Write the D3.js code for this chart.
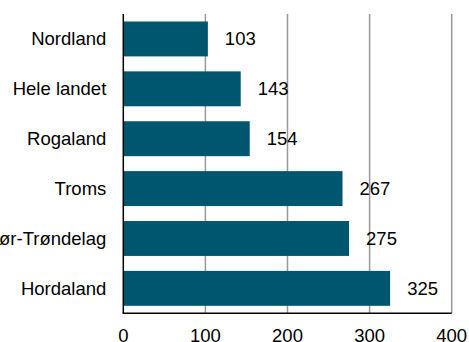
<!DOCTYPE html>
<html><head><meta charset="utf-8">
<script src="https://cdn.jsdelivr.net/npm/d3@7"></script>
<style>body{margin:0;background:#fff}svg{display:block}</style>
</head><body>
<script>
const categories = ["Nordland","Hele landet","Rogaland","Troms","Sør-Trøndelag","Hordaland"];
const values = [103,143,154,267,275,325];
const ticks = [0,100,200,300,400];

const W = 469, H = 342;
const m = {left:123.3, right:W-451.7, top:14, bottom:H-313.3};
const svg = d3.select("body").append("svg").attr("width",W).attr("height",H);
const x = d3.scaleLinear().domain([0,400]).range([m.left, W-m.right]);
const y = d3.scaleBand().domain(categories).range([m.top, H-m.bottom]).paddingInner(0.3).paddingOuter(0.15);
const font = "'Liberation Sans', Arial, sans-serif";
const fs = 18.5;

// gridlines
svg.append("g").selectAll("line").data(ticks.slice(1)).join("line")
  .attr("x1",d=>x(d)).attr("x2",d=>x(d))
  .attr("y1",m.top).attr("y2",H-m.bottom)
  .attr("stroke","#999").attr("stroke-width",1.5);

// bars
svg.append("g").selectAll("rect").data(values).join("rect")
  .attr("x",x(0)).attr("y",(d,i)=>y(categories[i]))
  .attr("width",d=>x(d)-x(0)).attr("height",y.bandwidth())
  .attr("fill","#00566e");

// value labels
svg.append("g").selectAll("text").data(values).join("text")
  .attr("x",d=>x(d)+17).attr("y",(d,i)=>y(categories[i])+y.bandwidth()/2)
  .attr("dy","0.35em").attr("font-family",font).attr("font-size",fs).attr("fill","#000")
  .text(d=>d);

// axes lines
svg.append("line").attr("x1",x(0)).attr("x2",x(0)).attr("y1",m.top).attr("y2",H-m.bottom)
  .attr("stroke","#000").attr("stroke-width",1.5);
svg.append("line").attr("x1",x(0)-0.75).attr("x2",x(400)).attr("y1",H-m.bottom).attr("y2",H-m.bottom)
  .attr("stroke","#000").attr("stroke-width",1.5);

// category labels
svg.append("g").selectAll("text").data(categories).join("text")
  .attr("x",x(0)-17).attr("y",d=>y(d)+y.bandwidth()/2).attr("dy","0.35em")
  .attr("text-anchor","end").attr("font-family",font).attr("font-size",fs).attr("fill","#000")
  .text(d=>d);

// tick labels
svg.append("g").selectAll("text").data(ticks).join("text")
  .attr("x",d=>x(d)).attr("y",H-m.bottom+29).attr("text-anchor","middle")
  .attr("font-family",font).attr("font-size",fs).attr("fill","#000")
  .text(d=>d);
</script>
</body></html>
